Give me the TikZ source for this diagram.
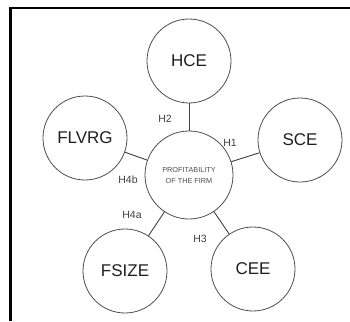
\documentclass[tikz,border=0pt]{standalone}
\usepackage{fontspec}
\setmainfont{Liberation Sans}
\begin{document}
\begin{tikzpicture}[x=1pt,y=-1pt,
        var/.style={circle,draw=black!70,line width=0.8pt,minimum size=84pt,inner sep=0pt,
            font=\fontsize{17}{20}\selectfont,text=black!88},
        hip/.style={font=\fontsize{10.5}{12}\selectfont,text=black!75,inner sep=1pt},
        liga/.style={draw=black!75,line width=0.9pt}]
        \useasboundingbox (0,0) rectangle (350,321);
        % moldura
        \draw[line width=2.5pt] (10.5,321) -- (10.5,8) -- (350,8);

        % firma no centro
        \node[var,minimum size=88pt,font=\fontsize{7.3}{11}\selectfont,align=center,text=black!70]
            (firm) at (189,175) {PROFITABILITY\\OF THE FIRM};

        % variáveis em volta
        \foreach \nome/\x/\y/\lab in {
            hce/189/61/HCE,
            sce/300/140/SCE,
            flvrg/85/138/FLVRG,
            fsize/125/271/FSIZE,
            cee/253/269/CEE
        }{
            \node[var] (\nome) at (\x,\y) {\lab};
            \draw[liga] (firm) -- (\nome);
        }

        % hipóteses
        \foreach \nome/\x/\y/\lab in {
            h1/230/143/H1,
            h2/165/119/H2,
            h3/200/239/H3,
            hqa/132/215/H4a,
            hqb/128/180/H4b
        }{
            \node[hip] (\nome) at (\x,\y) {\lab};
        }
    \end{tikzpicture}
\end{document}
